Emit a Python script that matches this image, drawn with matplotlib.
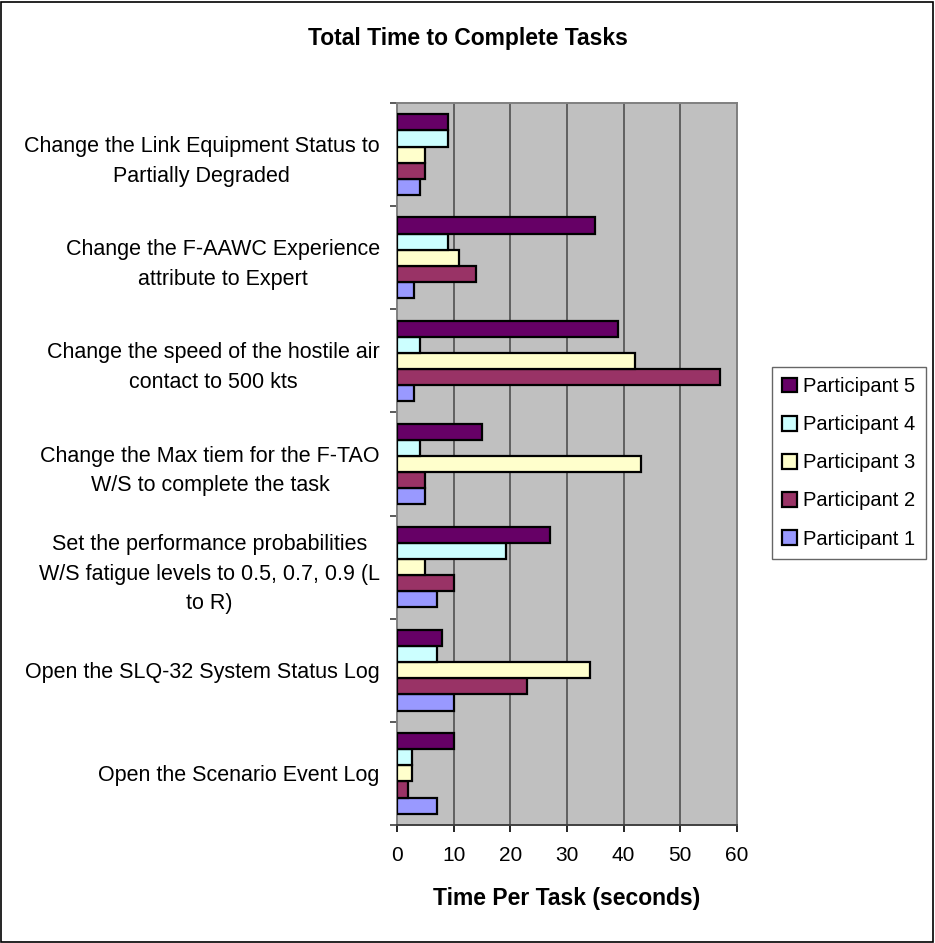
import numpy as np
import matplotlib.pyplot as plt
from matplotlib.patches import Rectangle

plt.rcParams['font.family'] = ['Liberation Sans', 'DejaVu Sans']

TASKS = [
    "Change the Link Equipment Status to\nPartially Degraded",
    "Change the F-AAWC Experience\nattribute to Expert",
    "Change the speed of the hostile air\ncontact to 500 kts",
    "Change the Max tiem for the F-TAO\nW/S to complete the task",
    "Set the performance probabilities\nW/S fatigue levels to 0.5, 0.7, 0.9 (L\nto R)",
    "Open the SLQ-32 System Status Log",
    "Open the Scenario Event Log",
]

P1 = [4, 3, 3, 5, 7, 10, 7]
P2 = [5, 14, 57, 5, 10, 23, 2]
P3 = [5, 11, 42, 43, 5, 34, 2.7]
P4 = [9, 9, 4, 4, 19.2, 7, 2.7]
P5 = [9, 35, 39, 15, 27, 8, 10]

SERIES = ["Participant 1", "Participant 2", "Participant 3", "Participant 4", "Participant 5"]
COLORS = ["#9999FF", "#993366", "#FFFFCC", "#CCFFFF", "#660066"]

fig = plt.figure(figsize=(9.35, 9.43), dpi=100)
fig.patches.append(Rectangle((0.001, 0.001), 0.997, 0.997, transform=fig.transFigure,
                             fill=False, edgecolor='black', linewidth=1.2))

ax = fig.add_axes([397/935, 1 - 825/943, 340/935, 722/943])
ax.set_facecolor('#C0C0C0')

n = len(TASKS)
centers = np.arange(n)[::-1].astype(float)   # first task at top
h = 0.156
data = [P1, P2, P3, P4, P5]
for k, (vals, col, name) in enumerate(zip(data, COLORS, SERIES)):
    offs = (k - 2) * h
    ax.barh(centers + offs, vals, height=h, color=col, edgecolor='black',
            linewidth=1.6, label=name, zorder=3)

ax.set_xlim(0, 60)
ax.set_ylim(-0.5, n - 0.5)
ax.set_xticks(np.arange(0, 61, 10))
ax.tick_params(axis='x', labelsize=15, length=5, width=1.2, pad=10, color='black')
ax.xaxis.grid(True, color='#606060', linewidth=1.4, zorder=1)

ax.set_yticks(centers)
ax.set_yticklabels(TASKS, fontsize=15.5, multialignment='center', linespacing=1.55)
ax.tick_params(axis='y', length=0, pad=12.5)
ax.set_yticks(np.arange(n + 1) - 0.5, minor=True)
ax.tick_params(axis='y', which='minor', length=5, width=1.2, color='#404040')

for s in ['top', 'right', 'left']:
    ax.spines[s].set_color('#808080')
    ax.spines[s].set_linewidth(1.4)
ax.spines['bottom'].set_color('#404040')
ax.spines['bottom'].set_linewidth(1.4)

ax.set_xlabel("Time Per Task (seconds)", fontsize=16.5, fontweight='bold', labelpad=16)
fig.text(0.5, 1 - 39/943, "Total Time to Complete Tasks", ha='center', va='center',
         fontsize=16.5, fontweight='bold')

handles, labels = ax.get_legend_handles_labels()
leg = fig.legend(handles[::-1], labels[::-1], loc='upper left',
                 bbox_to_anchor=(772/935, 1 - 367/943), fontsize=14.5,
                 frameon=True, fancybox=False, edgecolor='#404040',
                 handlelength=0.75, handleheight=0.75, handletextpad=0.3,
                 labelspacing=0.95, borderpad=0.5, borderaxespad=0)
leg.get_frame().set_linewidth(1.0)

fig.savefig("out.png", dpi=100)
